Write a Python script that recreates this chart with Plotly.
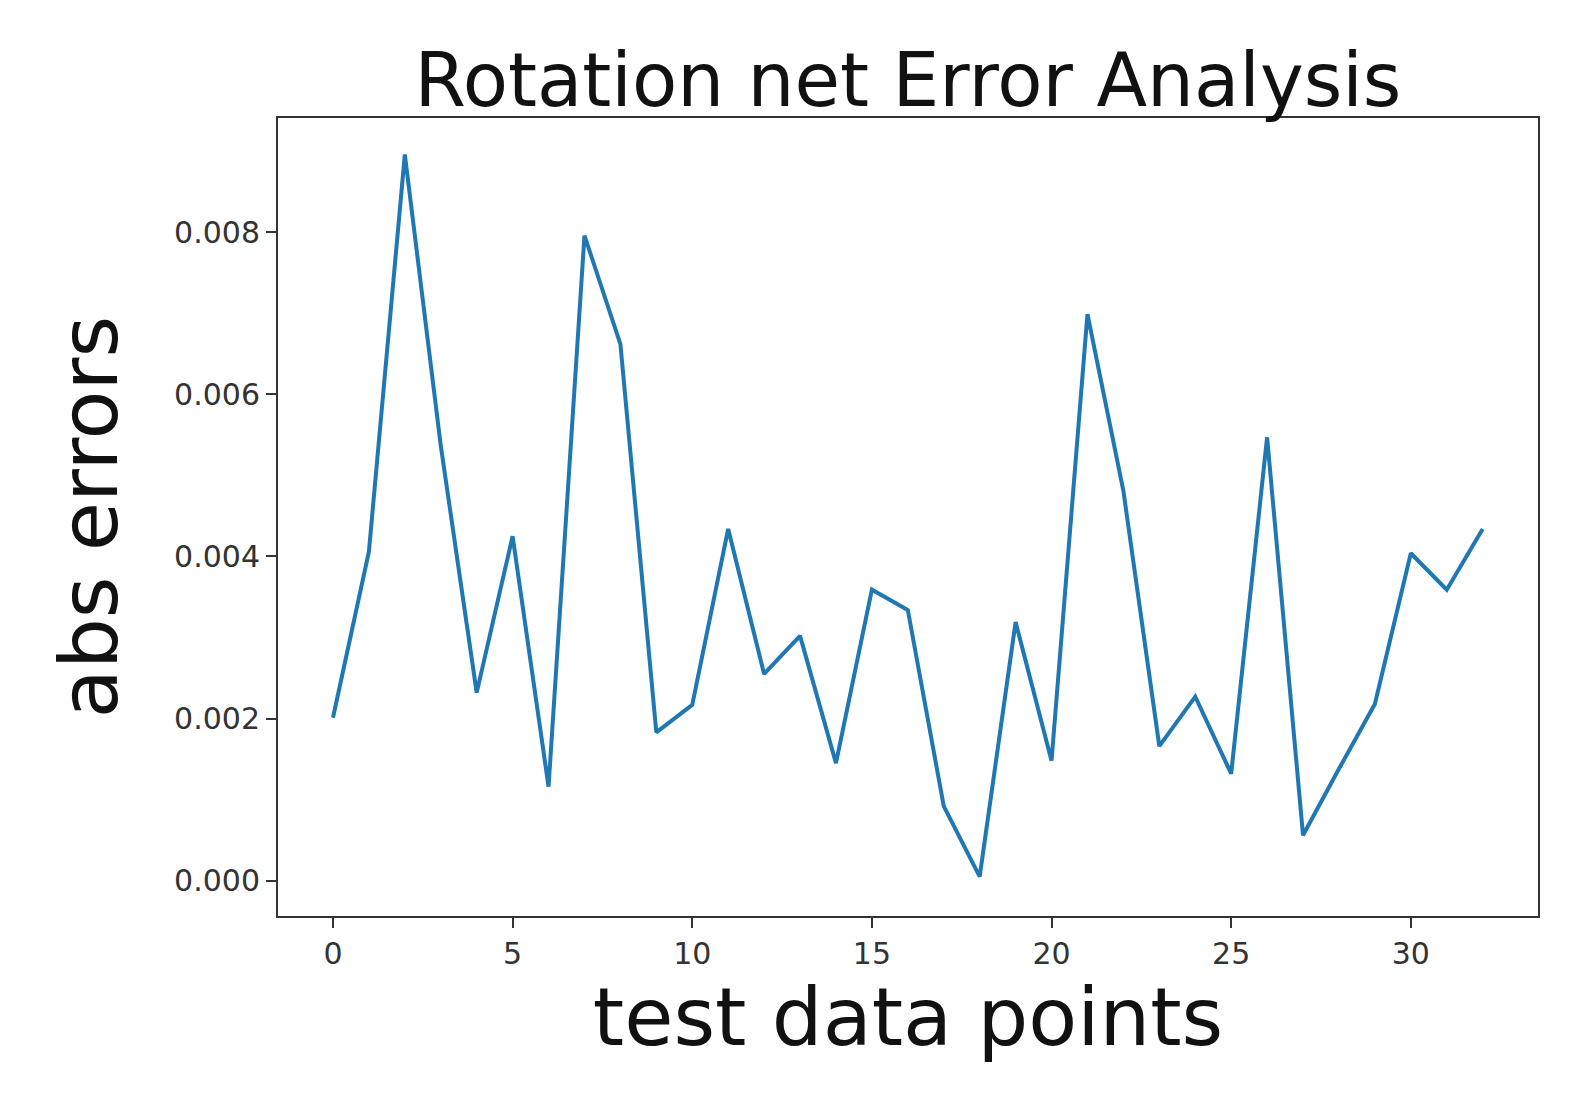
import plotly.graph_objects as go

x_idx = list(range(33))
abs_errors = [0.00201, 0.00406, 0.00896, 0.00537, 0.00232, 0.00425, 0.00116, 0.00796,
              0.00662, 0.00183, 0.00217, 0.00434, 0.00255, 0.00302, 0.00145, 0.00359,
              0.00334, 0.00092, 0.00005, 0.00319, 0.00148, 0.00699, 0.00481, 0.00166,
              0.00227, 0.00132, 0.00547, 0.00056, 0.00138, 0.00218, 0.00404, 0.00359,
              0.00434]
x_ticks = [0, 5, 10, 15, 20, 25, 30]
y_ticks = [0.000, 0.002, 0.004, 0.006, 0.008]

fig = go.Figure(go.Scatter(x=x_idx, y=abs_errors, mode="lines",
                           line=dict(color="#1f77b4", width=4)))
font = "DejaVu Sans"
fig.update_layout(
    width=1570, height=1098, paper_bgcolor="white", plot_bgcolor="white",
    margin=dict(l=270, r=40, t=110, b=190),
    showlegend=False,
    title=dict(text="Rotation net Error Analysis", x=0.5, xref="paper", xanchor="center",
               y=1.0, yref="paper", yanchor="bottom", pad=dict(b=12),
               font=dict(family=font, size=74, color="#111")),
    font=dict(family=font),
)
fig.update_xaxes(range=[-1.53, 33.54], tickvals=x_ticks, showgrid=False, zeroline=False,
                 showline=True, linecolor="#333", linewidth=2, mirror=True,
                 ticks="outside", ticklen=10, tickwidth=2, tickcolor="#333",
                 tickfont=dict(size=30, color="#333"),
                 title=dict(text="test data points", font=dict(size=80, color="#111"), standoff=5))
fig.update_yaxes(range=[-0.000436, 0.00941], tickvals=y_ticks, tickformat=".3f",
                 showgrid=False, zeroline=False,
                 showline=True, linecolor="#333", linewidth=2, mirror=True,
                 ticks="outside", ticklen=10, tickwidth=2, tickcolor="#333",
                 tickfont=dict(size=30, color="#333"),
                 title=dict(text="abs errors", font=dict(size=80, color="#111"), standoff=30))
fig.write_html("out.html")
